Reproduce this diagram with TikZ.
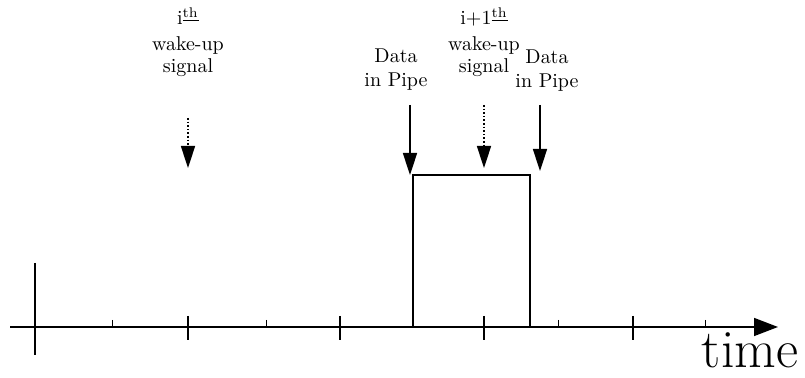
\documentclass[tikz,border=0pt]{standalone}
\usetikzlibrary{arrows.meta}
\begin{document}
\begin{tikzpicture}[x=0.5pt,y=-0.5pt,
            pointer/.style={-{Triangle[length=11pt,width=7pt]},thick},
            wakeup/.style={pointer,densely dotted}]
            \tikzstyle{lbl}=[align=center,inner sep=1pt,font=\normalsize]
            \useasboundingbox (0,0) rectangle (805,378);
            % time axis
            \coordinate (start) at (10,327);
            \coordinate (end) at (778,327);
            \draw[thick,-{Triangle[length=12pt,width=9pt]}] (start) -- (end);
            \node (time) at (750,350) {\fontsize{27}{30}\selectfont time};
            \coordinate (top) at (35,263);
            \coordinate (bottom) at (35,355);
            \draw[thick] (top) -- (bottom);
            \foreach \x in {188,340,484,633} \draw[thick] (\x,316) -- (\x,340);
            \foreach \x in {112,266,558,705} \draw (\x,320) -- (\x,327);
            % pulse
            \coordinate (rise) at (413,327);
            \coordinate (risetop) at (413,175);
            \coordinate (falltop) at (530,175);
            \coordinate (fall) at (530,327);
            \draw[thick] (rise) -- (risetop) -- (falltop) -- (fall);
            % labels
            \node[lbl] (wake1) at (188,42) {i$^{\underline{\rm th}}$\\[1pt]wake-up\\[-1pt]signal};
            \node[lbl] (wake2) at (484,42) {i+1$^{\underline{\rm th}}$\\[1pt]wake-up\\[-1pt]signal};
            \node[lbl] (pipe1) at (396,70) {Data\\in Pipe};
            \node[lbl] (pipe2) at (547,71) {Data\\in Pipe};
            % arrows
            \coordinate (w1a) at (188,118);
            \coordinate (w1b) at (188,168);
            \coordinate (w2a) at (484,105);
            \coordinate (w2b) at (484,168);
            \coordinate (p1a) at (410,105);
            \coordinate (p2a) at (540,105);
            \coordinate (p2b) at (540,171);
            \draw[wakeup] (w1a) -- (w1b);
            \draw[wakeup] (w2a) -- (w2b);
            \draw[pointer] (p1a) -- (p1a |- risetop);
            \draw[pointer] (p2a) -- (p2b);
\end{tikzpicture}
\end{document}
